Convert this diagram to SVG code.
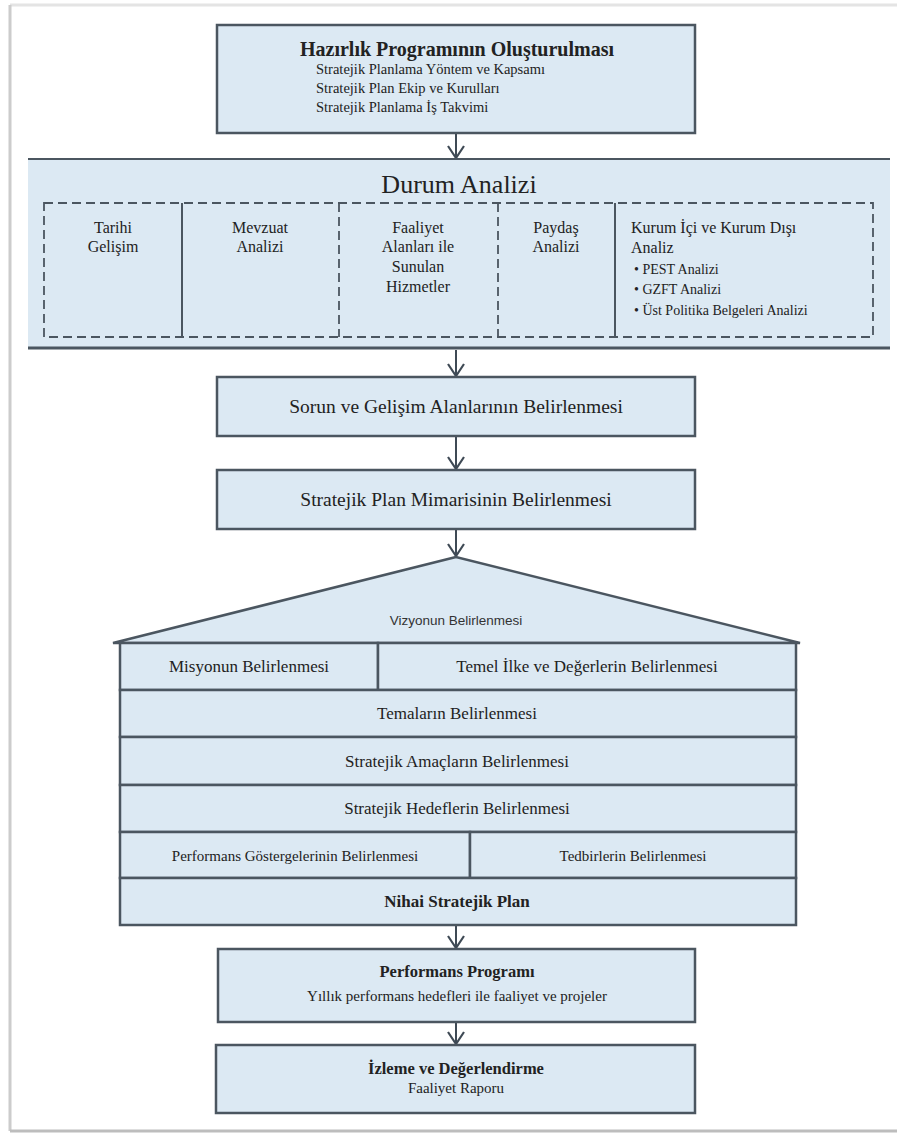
<svg xmlns="http://www.w3.org/2000/svg" width="897" height="1133" viewBox="0 0 897 1133">
<defs>
<style>
.box{fill:#dce9f3;stroke:#4b5660;stroke-width:2.5}
.t{font-family:"Liberation Serif","Times New Roman","DejaVu Serif",serif;fill:#222;text-anchor:middle}
.tl{font-family:"Liberation Serif","Times New Roman","DejaVu Serif",serif;fill:#222;text-anchor:start}
.b{font-weight:bold}
.s{font-family:"Liberation Sans","Open Sans",sans-serif;fill:#333;text-anchor:middle}
.conn{stroke:#3f4a55;stroke-width:2;fill:none}
.ln{stroke:#4b5660;stroke-width:2;fill:none}
.dash{stroke:#4b5660;stroke-width:1.8;fill:none;stroke-dasharray:9,5}
</style>
<marker id="ah" markerUnits="userSpaceOnUse" markerWidth="20" markerHeight="20" refX="13" refY="10" orient="auto" viewBox="0 0 20 20">
<path d="M1,2 L13,10 L1,18" fill="none" stroke="#3f4a55" stroke-width="2.2"/>
</marker>
</defs>
<rect x="0" y="0" width="897" height="1133" fill="#ffffff"/>
<g id="page">
<line x1="10" y1="5" x2="897" y2="5" stroke="#e4e4e4" stroke-width="3"/>
<line x1="10" y1="5" x2="10" y2="1131" stroke="#cccccc" stroke-width="3"/>
<line x1="10" y1="1131" x2="897" y2="1131" stroke="#bdbdbd" stroke-width="3"/>
</g>

<g id="connectors">
<line class="conn" x1="456" y1="134" x2="456" y2="158" marker-end="url(#ah)"/>
<line class="conn" x1="456" y1="350" x2="456" y2="376" marker-end="url(#ah)"/>
<line class="conn" x1="456" y1="437" x2="456" y2="469" marker-end="url(#ah)"/>
<line class="conn" x1="456" y1="530" x2="456" y2="556" marker-end="url(#ah)"/>
<line class="conn" x1="456" y1="926" x2="456" y2="948" marker-end="url(#ah)"/>
<line class="conn" x1="456" y1="1023" x2="456" y2="1044" marker-end="url(#ah)"/>
</g>

<g id="hazirlik">
<rect class="box" x="217" y="25" width="478" height="108"/>
<text class="t b" x="457" y="56" font-size="20">Hazırlık Programının Oluşturulması</text>
<text class="tl" x="316" y="74" font-size="14.5">Stratejik Planlama Yöntem ve Kapsamı</text>
<text class="tl" x="316" y="93" font-size="14.5">Stratejik Plan Ekip ve Kurulları</text>
<text class="tl" x="316" y="112" font-size="14.5">Stratejik Planlama İş Takvimi</text>
</g>

<g id="durum">
<rect x="28" y="159" width="862" height="189" fill="#dce9f3"/>
<line x1="28" y1="159" x2="890" y2="159" stroke="#4b5660" stroke-width="2"/>
<line x1="28" y1="348" x2="890" y2="348" stroke="#4b5660" stroke-width="3"/>
<text class="t" x="459" y="193" font-size="26">Durum Analizi</text>
<rect class="dash" x="44" y="203" width="829" height="134"/>
<line class="ln" x1="182" y1="203" x2="182" y2="337" stroke-width="1.8"/>
<line class="dash" x1="339" y1="203" x2="339" y2="337"/>
<line class="dash" x1="498" y1="203" x2="498" y2="337"/>
<line class="ln" x1="615" y1="203" x2="615" y2="337" stroke-width="1.8"/>
<text class="t" x="113" y="233" font-size="16">Tarihi</text>
<text class="t" x="113" y="252" font-size="16">Gelişim</text>
<text class="t" x="260" y="233" font-size="16">Mevzuat</text>
<text class="t" x="260" y="252" font-size="16">Analizi</text>
<text class="t" x="418" y="233" font-size="16">Faaliyet</text>
<text class="t" x="418" y="252" font-size="16">Alanları ile</text>
<text class="t" x="418" y="272" font-size="16">Sunulan</text>
<text class="t" x="418" y="292" font-size="16">Hizmetler</text>
<text class="t" x="556" y="233" font-size="16">Paydaş</text>
<text class="t" x="556" y="252" font-size="16">Analizi</text>
<text class="tl" x="631" y="233" font-size="16">Kurum İçi ve Kurum Dışı</text>
<text class="tl" x="631" y="253" font-size="16">Analiz</text>
<text class="tl" x="634" y="274" font-size="14">•  PEST Analizi</text>
<text class="tl" x="634" y="294" font-size="14">•  GZFT Analizi</text>
<text class="tl" x="634" y="315" font-size="14">•  Üst Politika Belgeleri Analizi</text>
</g>

<g id="sorun">
<rect class="box" x="217" y="377" width="478" height="59"/>
<text class="t" x="456" y="413" font-size="19.5">Sorun ve Gelişim Alanlarının Belirlenmesi</text>
</g>

<g id="mimari">
<rect class="box" x="217" y="470" width="478" height="59"/>
<text class="t" x="456" y="506" font-size="19.5">Stratejik Plan Mimarisinin Belirlenmesi</text>
</g>

<g id="vizyon">
<polygon class="box" points="456,557 113,643 800,643"/>
<text class="s" x="456" y="625" font-size="13.5">Vizyonun Belirlenmesi</text>
</g>

<g id="misyon">
<rect class="box" x="120" y="643" width="258" height="47"/>
<text class="t" x="249" y="672" font-size="17">Misyonun Belirlenmesi</text>
</g>
<g id="temel">
<rect class="box" x="378" y="643" width="418" height="47"/>
<text class="t" x="587" y="672" font-size="17">Temel İlke ve Değerlerin Belirlenmesi</text>
</g>
<g id="temalar">
<rect class="box" x="120" y="690" width="676" height="47"/>
<text class="t" x="457" y="719" font-size="17">Temaların Belirlenmesi</text>
</g>
<g id="amaclar">
<rect class="box" x="120" y="737" width="676" height="48"/>
<text class="t" x="457" y="767" font-size="17">Stratejik Amaçların Belirlenmesi</text>
</g>
<g id="hedefler">
<rect class="box" x="120" y="785" width="676" height="47"/>
<text class="t" x="457" y="814" font-size="17">Stratejik Hedeflerin Belirlenmesi</text>
</g>
<g id="gostergeler">
<rect class="box" x="120" y="832" width="350" height="46"/>
<text class="t" x="295" y="861" font-size="15" fill="#444">Performans Göstergelerinin Belirlenmesi</text>
</g>
<g id="tedbirler">
<rect class="box" x="470" y="832" width="326" height="46"/>
<text class="t" x="633" y="861" font-size="15">Tedbirlerin Belirlenmesi</text>
</g>
<g id="nihai">
<rect class="box" x="120" y="878" width="676" height="47"/>
<text class="t b" x="457" y="907" font-size="17">Nihai Stratejik Plan</text>
</g>

<g id="performans">
<rect class="box" x="218" y="949" width="477" height="73"/>
<text class="t b" x="457" y="977" font-size="16.5">Performans Programı</text>
<text class="t" x="457" y="1001" font-size="15">Yıllık performans hedefleri ile faaliyet ve projeler</text>
</g>

<g id="izleme">
<rect class="box" x="216" y="1045" width="479" height="68"/>
<text class="t b" x="456" y="1074" font-size="16.5">İzleme ve Değerlendirme</text>
<text class="t" x="456" y="1093" font-size="15">Faaliyet Raporu</text>
</g>
</svg>
